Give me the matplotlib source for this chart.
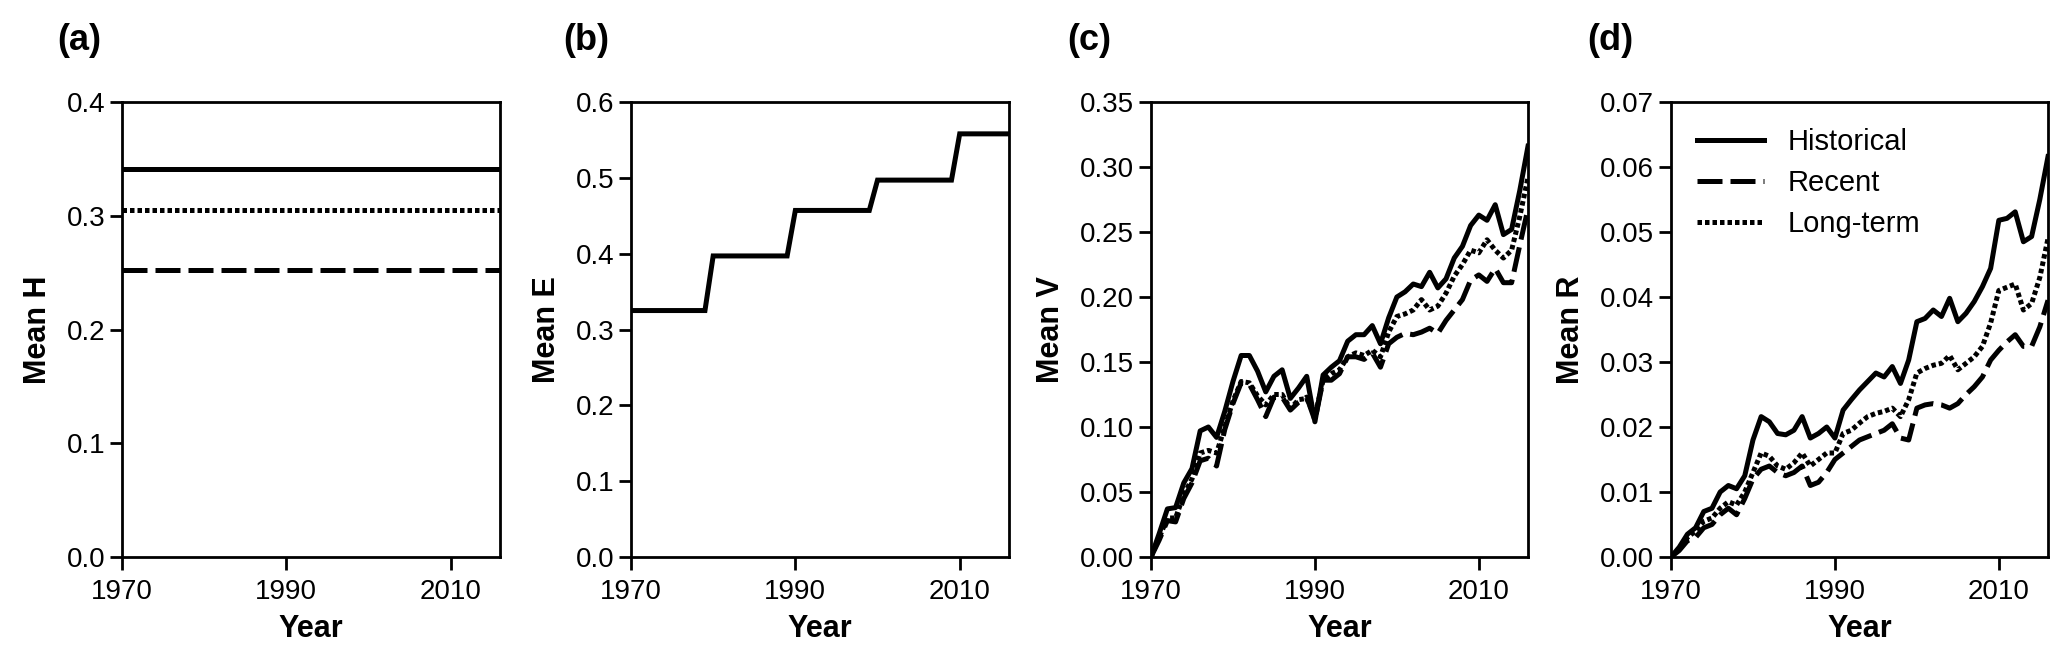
import matplotlib
matplotlib.use("Agg")
import matplotlib.pyplot as plt
import numpy as np

plt.rcParams["font.family"] = ["Liberation Sans", "DejaVu Sans"]

years = np.arange(1970, 2017)

# panel (a): constant means
h_historical = 0.341
h_recent = 0.252
h_longterm = 0.305

# panel (b): mean E per year
mean_e = [
    0.325, 0.325, 0.325, 0.325, 0.325, 0.325, 0.325, 0.325, 0.325, 0.325,
    0.397, 0.397, 0.397, 0.397, 0.397, 0.397, 0.397, 0.397, 0.397, 0.397,
    0.457, 0.457, 0.457, 0.457, 0.457, 0.457, 0.457, 0.457, 0.457, 0.457,
    0.497, 0.497, 0.497, 0.497, 0.497, 0.497, 0.497, 0.497, 0.497, 0.497,
    0.558, 0.558, 0.558, 0.558, 0.558, 0.558, 0.558,
]

# panel (c): mean V
v_historical = [
    0.000, 0.018, 0.037, 0.038, 0.057, 0.068, 0.097, 0.100, 0.092, 0.112,
    0.135, 0.155, 0.155, 0.143, 0.127, 0.139, 0.144, 0.122, 0.130, 0.139,
    0.104, 0.140, 0.146, 0.151, 0.166, 0.171, 0.171, 0.178, 0.164, 0.184,
    0.200, 0.204, 0.210, 0.208, 0.219, 0.207, 0.214, 0.230, 0.239, 0.255,
    0.263, 0.259, 0.271, 0.248, 0.252, 0.282, 0.316,
]
v_recent = [
    0.000, 0.013, 0.028, 0.027, 0.045, 0.057, 0.074, 0.076, 0.070, 0.098,
    0.118, 0.134, 0.133, 0.121, 0.108, 0.123, 0.123, 0.113, 0.119, 0.123,
    0.105, 0.136, 0.136, 0.141, 0.154, 0.154, 0.152, 0.157, 0.146, 0.164,
    0.169, 0.172, 0.171, 0.173, 0.176, 0.172, 0.182, 0.190, 0.198, 0.213,
    0.217, 0.212, 0.222, 0.211, 0.211, 0.240, 0.268,
]
v_longterm = [
    0.000, 0.015, 0.030, 0.030, 0.048, 0.060, 0.080, 0.082, 0.080, 0.100,
    0.120, 0.135, 0.134, 0.124, 0.117, 0.125, 0.125, 0.114, 0.121, 0.122,
    0.108, 0.136, 0.141, 0.144, 0.154, 0.157, 0.155, 0.159, 0.154, 0.173,
    0.185, 0.187, 0.190, 0.198, 0.190, 0.193, 0.203, 0.216, 0.225, 0.236,
    0.234, 0.244, 0.236, 0.230, 0.236, 0.262, 0.292,
]

# panel (d): mean R
r_historical = [
    0.0000, 0.0015, 0.0035, 0.0045, 0.0070, 0.0075, 0.0100, 0.0110, 0.0105, 0.0125,
    0.0180, 0.0216, 0.0208, 0.0190, 0.0188, 0.0195, 0.0216, 0.0183, 0.0190, 0.0200,
    0.0183, 0.0226, 0.0242, 0.0257, 0.0270, 0.0283, 0.0277, 0.0293, 0.0267, 0.0303,
    0.0362, 0.0367, 0.0380, 0.0370, 0.0398, 0.0362, 0.0375, 0.0393, 0.0416, 0.0444,
    0.0518, 0.0521, 0.0531, 0.0485, 0.0493, 0.0550, 0.0616,
]
r_recent = [
    0.0000, 0.0010, 0.0025, 0.0030, 0.0045, 0.0050, 0.0065, 0.0075, 0.0065, 0.0090,
    0.0120, 0.0135, 0.0140, 0.0130, 0.0125, 0.0130, 0.0140, 0.0110, 0.0115, 0.0130,
    0.0150, 0.0160, 0.0170, 0.0180, 0.0185, 0.0190, 0.0195, 0.0205, 0.0183, 0.0180,
    0.0229, 0.0234, 0.0236, 0.0234, 0.0229, 0.0236, 0.0250, 0.0262, 0.0277, 0.0303,
    0.0318, 0.0331, 0.0342, 0.0324, 0.0324, 0.0354, 0.0395,
]
r_longterm = [
    0.0000, 0.0012, 0.0030, 0.0040, 0.0055, 0.0060, 0.0075, 0.0085, 0.0080, 0.0100,
    0.0130, 0.0160, 0.0155, 0.0140, 0.0135, 0.0145, 0.0160, 0.0140, 0.0150, 0.0160,
    0.0160, 0.0190, 0.0195, 0.0206, 0.0216, 0.0221, 0.0224, 0.0229, 0.0216, 0.0242,
    0.0283, 0.0290, 0.0295, 0.0298, 0.0310, 0.0288, 0.0298, 0.0308, 0.0324, 0.0360,
    0.0410, 0.0415, 0.0420, 0.0380, 0.0390, 0.0430, 0.0490,
]

panel_labels = ["(a)", "(b)", "(c)", "(d)"]
y_labels = ["Mean H", "Mean E", "Mean V", "Mean R"]
y_limits = [(0, 0.4), (0, 0.6), (0, 0.35), (0, 0.07)]
y_steps = [0.1, 0.1, 0.05, 0.01]
y_formats = ["{:.1f}", "{:.1f}", "{:.2f}", "{:.2f}"]
x_ticks = [1970, 1990, 2010]
series_names = ["Historical", "Recent", "Long-term"]

LW = 3.6
STYLES = {
    "Historical": dict(linestyle="-"),
    "Recent": dict(linestyle=(0, (5, 1.6))),
    "Long-term": dict(linestyle=(0, (0.9, 0.6))),
}

W, H = 2067, 668
fig = plt.figure(figsize=(W / 100, H / 100), dpi=100)

# axes boxes in pixels: left, right
boxes = [(122, 500), (631, 1009), (1151, 1528), (1671, 2048)]
top_px, bottom_px = 102, 557
label_x_px = [57, 563, 1067, 1587]

axes = []
for i, (l, r) in enumerate(boxes):
    ax = fig.add_axes([l / W, 1 - bottom_px / H, (r - l) / W, (bottom_px - top_px) / H])
    axes.append(ax)
    for sp in ax.spines.values():
        sp.set_linewidth(2.0)
    ax.set_xlim(1970, 2016)
    ax.set_ylim(*y_limits[i])
    ax.set_xticks(x_ticks)
    yt = np.arange(0, y_limits[i][1] + 1e-9, y_steps[i])
    ax.set_yticks(yt)
    ax.set_yticklabels([y_formats[i].format(v) for v in yt])
    ax.tick_params(axis="both", direction="out", length=9, width=2.0,
                   labelsize=20, top=False, right=False)
    ax.tick_params(axis="x", pad=7)
    ax.tick_params(axis="y", pad=3)
    ax.set_xlabel("Year", fontsize=22, fontweight="bold", labelpad=6)
    ax.set_ylabel(y_labels[i], fontsize=22, fontweight="bold", labelpad=10)
    fig.text(label_x_px[i] / W, 1 - 40 / H, panel_labels[i], fontsize=26,
             fontweight="bold", ha="left", va="center")

# (a)
for name, val in zip(series_names, [h_historical, h_recent, h_longterm]):
    axes[0].plot(years, np.full(len(years), val), color="black", lw=LW,
                 solid_capstyle="butt", dash_capstyle="butt", **STYLES[name])

# (b)
axes[1].plot(years, mean_e, color="black", lw=LW, solid_joinstyle="miter")

# (c)
for name, vals in zip(series_names, [v_historical, v_recent, v_longterm]):
    axes[2].plot(years, vals, color="black", lw=LW, dash_capstyle="butt",
                 **STYLES[name])

# (d)
for name, vals in zip(series_names, [r_historical, r_recent, r_longterm]):
    axes[3].plot(years, vals, color="black", lw=LW, dash_capstyle="butt",
                 label=name, **STYLES[name])
axes[3].legend(loc="upper left", frameon=False, fontsize=21, handlelength=2.3,
               handletextpad=0.8, labelspacing=0.45, borderaxespad=0.5)

fig.savefig("out.png", dpi=100)
